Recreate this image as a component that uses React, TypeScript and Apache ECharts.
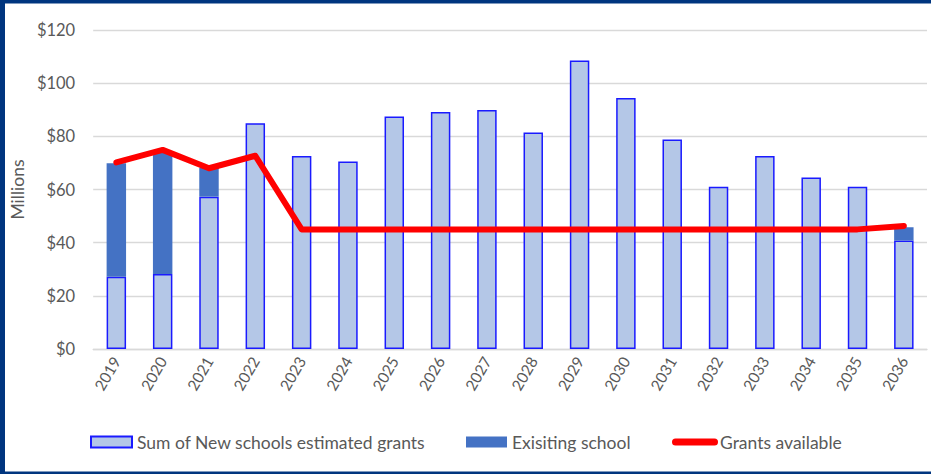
import React, { useEffect, useRef } from "react";
import * as echarts from "echarts";

const years = ["2019","2020","2021","2022","2023","2024","2025","2026","2027","2028","2029","2030","2031","2032","2033","2034","2035","2036"];
const newSchools = [27.2, 28.2, 57.3, 84.9, 72.6, 70.5, 87.5, 89.2, 89.9, 81.4, 108.5, 94.4, 78.8, 61, 72.6, 64.5, 61, 40.8];
const existingSchool = [42.7, 46.3, 10.9, 0, 0, 0, 0, 0, 0, 0, 0, 0, 0, 0, 0, 0, 0, 5.0];
const grantsAvailable = [70.2, 74.9, 68.0, 72.7, 45, 45, 45, 45, 45, 45, 45, 45, 45, 45, 45, 45, 45, 46.3];
const yTicks = { min: 0, max: 120, interval: 20 };

const FONT = "Lato, 'Open Sans', sans-serif";
const TXT = "#595959";
const NAVY = "#00357f";

export default function App() {
  const ref = useRef<HTMLDivElement>(null);
  useEffect(() => {
    if (!ref.current) return;
    const chart = echarts.init(ref.current, undefined, { renderer: "svg" });
    const legendText = { color: TXT, fontSize: 17.5, fontFamily: FONT };
    chart.setOption({
      animation: false,
      backgroundColor: "#ffffff",
      grid: { left: 90, right: 4, top: 30, bottom: 125, containLabel: false },
      xAxis: {
        type: "category",
        data: years,
        axisLine: { lineStyle: { color: "#d9d9d9", width: 1.3 } },
        axisTick: { show: false },
        axisLabel: { rotate: 60, color: TXT, fontSize: 15.5, fontFamily: FONT, margin: 9, interval: 0 },
      },
      yAxis: {
        type: "value",
        min: yTicks.min,
        max: yTicks.max,
        interval: yTicks.interval,
        name: "Millions",
        nameLocation: "middle",
        nameGap: 64,
        nameRotate: 90,
        nameTextStyle: { color: TXT, fontSize: 17.5, fontFamily: FONT },
        axisLabel: { color: TXT, fontSize: 16.5, fontFamily: FONT, margin: 18, formatter: (v: number) => "$" + v },
        splitLine: { lineStyle: { color: "#d9d9d9", width: 1.3 } },
        axisLine: { show: false },
        axisTick: { show: false },
      },
      legend: [
        {
          left: 85, top: 428, itemWidth: 41, itemHeight: 11, itemGap: 0, icon: "rect",
          data: ["Sum of New schools estimated grants"], textStyle: legendText,
        },
        {
          left: 461, top: 428, itemWidth: 41, itemHeight: 11, itemGap: 0, icon: "rect",
          data: ["Exisiting school"], textStyle: legendText,
        },
        {
          left: 667, top: 428, itemWidth: 46, itemHeight: 7, itemGap: 0,
          data: [{
            name: "Grants available",
            icon: "path://M3.5,0 L42.5,0 A3.5,3.5 0 0 1 42.5,7 L3.5,7 A3.5,3.5 0 0 1 3.5,0 Z",
            itemStyle: { color: "#ff0000", borderWidth: 0 },
          }],
          textStyle: { ...legendText, padding: [0, 0, 0, -3] },
        },
      ],
      series: [
        {
          name: "Sum of New schools estimated grants",
          type: "bar",
          stack: "s",
          data: newSchools,
          barWidth: "42%",
          itemStyle: { color: "#b4c7e7", borderColor: "#1a1aff", borderWidth: 1.5 },
        },
        {
          name: "Exisiting school",
          type: "bar",
          stack: "s",
          data: existingSchool,
          barWidth: "42%",
          itemStyle: { color: "#4472c4" },
        },
        {
          name: "Grants available",
          type: "line",
          data: grantsAvailable,
          symbol: "none",
          showSymbol: false,
          z: 5,
          lineStyle: { color: "#ff0000", width: 6, cap: "round", join: "round" },
          itemStyle: { color: "#ff0000" },
        },
      ],
      graphic: [
        { type: "rect", shape: { x: 0, y: 0, width: 931, height: 3.5 }, style: { fill: NAVY }, silent: true },
        { type: "rect", shape: { x: 0, y: 0, width: 5, height: 474 }, style: { fill: NAVY }, silent: true },
        { type: "rect", shape: { x: 0, y: 471.5, width: 931, height: 3 }, style: { fill: NAVY }, silent: true },
      ],
    });
    return () => chart.dispose();
  }, []);
  return (
    <div style={{ position: "absolute", left: 0, top: 0, width: 931, height: 474 }}>
      <div ref={ref} style={{ width: 931, height: 474 }} />
    </div>
  );
}
